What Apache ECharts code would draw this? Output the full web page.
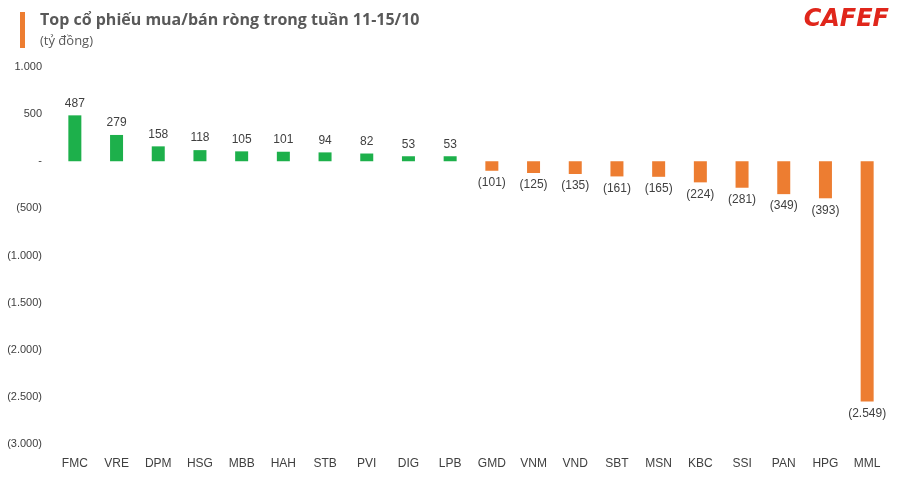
<!DOCTYPE html>
<html><head><meta charset="utf-8">
<script src="https://cdn.jsdelivr.net/npm/echarts@6/dist/echarts.min.js"></script>
<style>html,body{margin:0;padding:0;background:#fff}#c{width:901px;height:484px}</style>
</head><body><div id="c"></div>
<script>
const categories=["FMC","VRE","DPM","HSG","MBB","HAH","STB","PVI","DIG","LPB","GMD","VNM","VND","SBT","MSN","KBC","SSI","PAN","HPG","MML"];
const values=[487,279,158,118,105,101,94,82,53,53,-101,-125,-135,-161,-165,-224,-281,-349,-393,-2549];
const fmt=v=>{if(v===0)return '-';const s=Math.abs(v).toString().replace(/\B(?=(\d{3})+(?!\d))/g,'.');return v<0?'('+s+')':s;};
const chart=echarts.init(document.getElementById('c'));
chart.setOption({
  animation:false,
  graphic:[
    {type:'rect',left:20,top:12,shape:{width:5,height:36},style:{fill:'#ED7D31'}},
    {type:'text',left:40,top:12,style:{text:'Top cổ phiếu mua/bán ròng trong tuần 11-15/10',font:'bold 16px "Open Sans", sans-serif',fill:'#595959'}},
    {type:'text',left:40,top:35,style:{text:'(tỷ đồng)',font:'13px "Open Sans", sans-serif',fill:'#595959'}},
    {type:'text',right:12,top:8,style:{text:'CAFEF',font:'italic 900 24px "DejaVu Sans", sans-serif',fill:'#E0261B'}}
  ],
  grid:{left:54,right:13,top:67,bottom:40},
  xAxis:{type:'category',data:categories,position:'bottom',offset:0,
    axisLine:{show:false},axisTick:{show:false},
    axisLabel:{color:'#404040',fontSize:12,fontFamily:'Arial',margin:14}},
  yAxis:{type:'value',min:-3000,max:1000,interval:500,splitLine:{show:false},
    axisLabel:{color:'#404040',fontSize:11,fontFamily:'Arial',formatter:fmt,margin:12}},
  series:[{type:'bar',barWidth:13,
    data:values.map(v=>({value:v,itemStyle:{color:v>=0?'#1DB04B':'#ED7D31'},
      label:{show:true,position:v>=0?'top':'bottom',formatter:()=>fmt(v),color:'#404040',fontSize:12,fontFamily:'Arial',distance:6}}))}]
});
</script></body></html>
